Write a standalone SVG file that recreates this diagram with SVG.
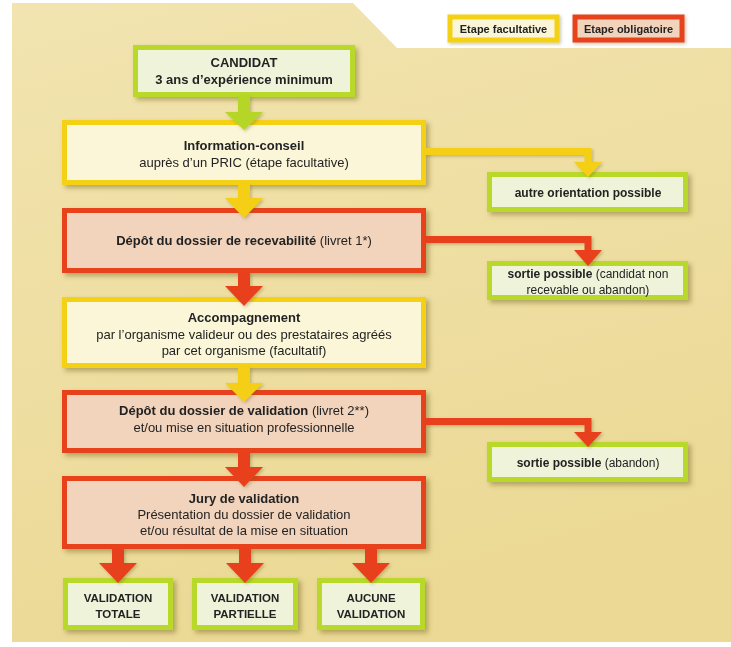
<svg xmlns="http://www.w3.org/2000/svg" width="731" height="647" viewBox="0 0 731 647">
<defs>
<linearGradient id="bg" x1="0" y1="0" x2="0.3" y2="1">
<stop offset="0" stop-color="#f2e4b0"/>
<stop offset="1" stop-color="#ebd995"/>
</linearGradient>
<filter id="sh" x="-10%" y="-20%" width="130%" height="160%">
<feDropShadow dx="3" dy="3" stdDeviation="2.5" flood-color="#6b5a1e" flood-opacity="0.45"/>
</filter>
<filter id="sh2" x="-10%" y="-20%" width="130%" height="160%">
<feDropShadow dx="1.5" dy="1.5" stdDeviation="1.5" flood-color="#6b5a1e" flood-opacity="0.35"/>
</filter>
</defs>
<style>
.box{stroke-width:5}
.yel{fill:#fbf6d8;stroke:#f5d116}
.red{fill:#f2d3bb;stroke:#e8421f}
.grn{fill:#eff3da;stroke:#b8d82a}
text{font-family:"Liberation Sans",Arial,sans-serif;fill:#232323;text-anchor:middle}
.t{font-size:13px}
.b{font-weight:bold}
.s{font-size:12px}
.r{font-size:11.5px;font-weight:bold}
.lg{font-size:11px;font-weight:bold}
.cy{fill:#f5cf12}
.cr{fill:#e8411e}
.cg{fill:#b5d628}
.ly{stroke:#f5cf12;stroke-width:7;fill:none}
.lr{stroke:#e8411e;stroke-width:7;fill:none}
</style>
<rect width="731" height="647" fill="#ffffff"/>
<path d="M12,3 L353,3 L397,48 L731,48 L731,642 L12,642 Z" fill="url(#bg)"/>

<g id="legend">
<g id="legend-facultative" filter="url(#sh2)">
<rect class="box yel" x="450" y="17" width="107" height="23" stroke-width="4"/>
<text class="lg" x="503.5" y="33">Etape facultative</text>
</g>
<g id="legend-obligatoire" filter="url(#sh2)">
<rect class="box red" x="575" y="17" width="107" height="23" stroke-width="4"/>
<text class="lg" x="628.5" y="33">Etape obligatoire</text>
</g>
</g>

<g id="candidat" filter="url(#sh)">
<rect class="box grn" x="135.5" y="47.5" width="217" height="47"/>
<text class="t b" x="244" y="67">CANDIDAT</text>
<text class="t b" x="244" y="84">3 ans d’expérience minimum</text>
</g>

<g id="information" filter="url(#sh)">
<rect class="box yel" x="64.5" y="122.5" width="359" height="60"/>
<text class="t b" x="244" y="150">Information-conseil</text>
<text class="t" x="244" y="167">auprès d’un PRIC (étape facultative)</text>
</g>

<g id="autre" filter="url(#sh)">
<rect class="box grn" x="489.5" y="174.5" width="196" height="35"/>
<text class="s b" x="588" y="197">autre orientation possible</text>
</g>

<g id="recevabilite" filter="url(#sh)">
<rect class="box red" x="64.5" y="210.5" width="359" height="60"/>
<text class="t" x="244" y="245"><tspan class="b">Dépôt du dossier de recevabilité</tspan> (livret 1*)</text>
</g>

<g id="sortie1" filter="url(#sh)">
<rect class="box grn" x="489.5" y="263.5" width="196" height="34"/>
<text class="s" x="588" y="278"><tspan class="b">sortie possible</tspan> (candidat non</text>
<text class="s" x="588" y="294">recevable ou abandon)</text>
</g>

<g id="accompagnement" filter="url(#sh)">
<rect class="box yel" x="64.5" y="299.5" width="359" height="66"/>
<text class="t b" x="244" y="322">Accompagnement</text>
<text class="t" x="244" y="339">par l’organisme valideur ou des prestataires agréés</text>
<text class="t" x="244" y="355">par cet organisme (facultatif)</text>
</g>

<g id="validation" filter="url(#sh)">
<rect class="box red" x="64.5" y="392.5" width="359" height="58"/>
<text class="t" x="244" y="415"><tspan class="b">Dépôt du dossier de validation</tspan> (livret 2**)</text>
<text class="t" x="244" y="432">et/ou mise en situation professionnelle</text>
</g>

<g id="sortie2" filter="url(#sh)">
<rect class="box grn" x="489.5" y="444.5" width="196" height="35"/>
<text class="s" x="588" y="467"><tspan class="b">sortie possible</tspan> (abandon)</text>
</g>

<g id="jury" filter="url(#sh)">
<rect class="box red" x="64.5" y="478.5" width="359" height="68"/>
<text class="t b" x="244" y="503">Jury de validation</text>
<text class="t" x="244" y="519">Présentation du dossier de validation</text>
<text class="t" x="244" y="535">et/ou résultat de la mise en situation</text>
</g>

<g id="totale" filter="url(#sh)">
<rect class="box grn" x="65.5" y="580.5" width="105" height="47"/>
<text class="r" x="118" y="602">VALIDATION</text>
<text class="r" x="118" y="618">TOTALE</text>
</g>

<g id="partielle" filter="url(#sh)">
<rect class="box grn" x="194.5" y="580.5" width="101" height="47"/>
<text class="r" x="245" y="602">VALIDATION</text>
<text class="r" x="245" y="618">PARTIELLE</text>
</g>

<g id="aucune" filter="url(#sh)">
<rect class="box grn" x="319.5" y="580.5" width="103" height="47"/>
<text class="r" x="371" y="602">AUCUNE</text>
<text class="r" x="371" y="618">VALIDATION</text>
</g>

<g id="connectors" filter="url(#sh2)">
<path class="cg" d="M238,96 H250 V112 H263 L244,130 L225,112 H238 Z"/>
<path class="cy" d="M238,184 H250 V198 H263 L244,218 L225,198 H238 Z"/>
<path class="cr" d="M238,272 H250 V286 H263 L244,306 L225,286 H238 Z"/>
<path class="cy" d="M238,367 H250 V383 H263 L244,402 L225,383 H238 Z"/>
<path class="cr" d="M238,452 H250 V467 H263 L244,487 L225,467 H238 Z"/>
<path class="cr" d="M112,548 H124 V563 H137 L118,583 L99,563 H112 Z"/>
<path class="cr" d="M239,548 H251 V563 H264 L245,583 L226,563 H239 Z"/>
<path class="cr" d="M365,548 H377 V563 H390 L371,583 L352,563 H365 Z"/>
<path class="ly" d="M425,151.5 H588 V163"/>
<path class="cy" d="M574,162 H602 L588,177 Z"/>
<path class="lr" d="M425,239.5 H588 V251"/>
<path class="cr" d="M574,250 H602 L588,266 Z"/>
<path class="lr" d="M425,421.5 H588 V433"/>
<path class="cr" d="M574,432 H602 L588,447 Z"/>
</g>
</svg>
